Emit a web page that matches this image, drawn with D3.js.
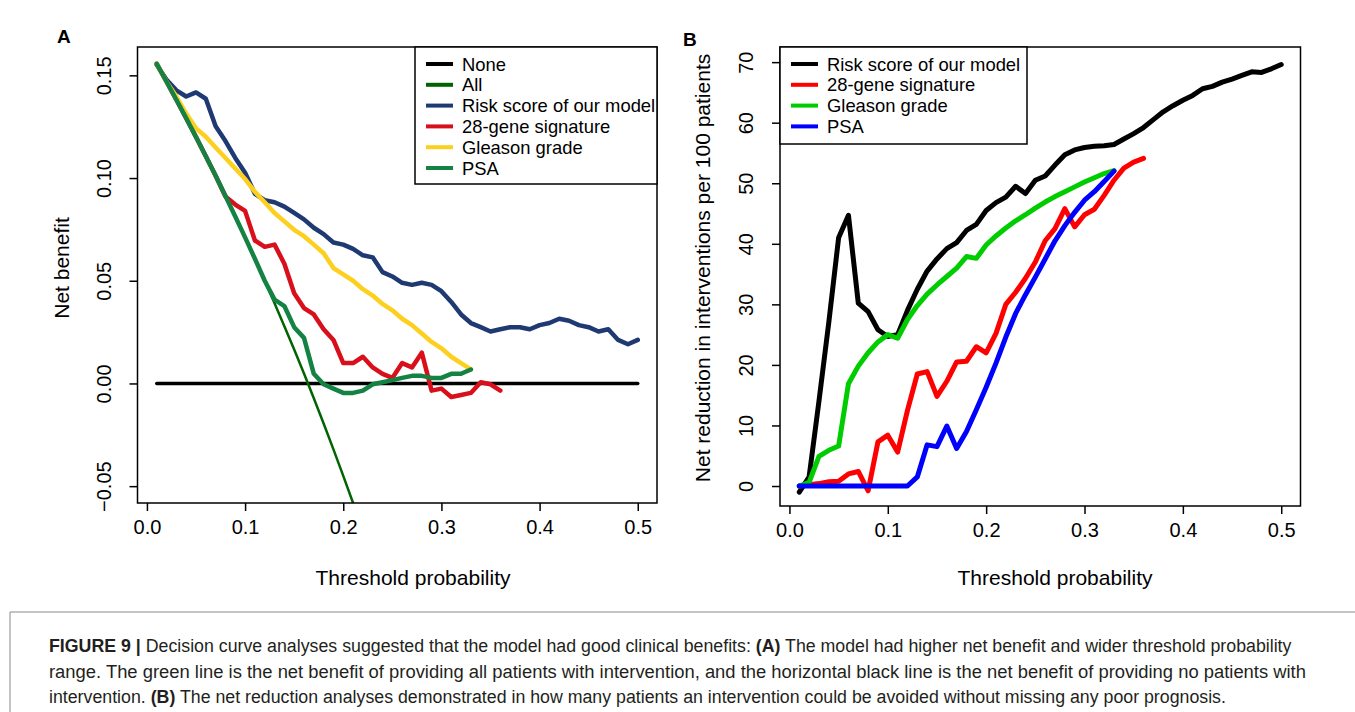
<!DOCTYPE html>
<html>
<head>
<meta charset="utf-8">
<script src="https://cdn.jsdelivr.net/npm/d3@7"></script>
<style>
  body { margin: 0; background: #fff; }
  svg { display: block; }
  text { font-family: "Liberation Sans", Arial, sans-serif; fill: #000; }
</style>
</head>
<body>
<svg id="chart" width="1355" height="712"></svg>
<script>
// threshold probabilities (x values, shared by every curve)
const thresholds = [0.01, 0.02, 0.03, 0.04, 0.05, 0.06, 0.07, 0.08, 0.09, 0.10,
                    0.11, 0.12, 0.13, 0.14, 0.15, 0.16, 0.17, 0.18, 0.19, 0.20,
                    0.21, 0.22, 0.23, 0.24, 0.25, 0.26, 0.27, 0.28, 0.29, 0.30,
                    0.31, 0.32, 0.33, 0.34, 0.35, 0.36, 0.37, 0.38, 0.39, 0.40,
                    0.41, 0.42, 0.43, 0.44, 0.45, 0.46, 0.47, 0.48, 0.49, 0.50];
const xTicks = [0, 0.1, 0.2, 0.3, 0.4, 0.5];

// Panel A : net benefit
const noneX = [0.01, 0.50];
const noneA = [0, 0];
const allA = [0.1556, 0.1469, 0.1381, 0.1292, 0.1200, 0.1106, 0.1011, 0.0913, 0.0813, 0.0711,
              0.0607, 0.0500, 0.0391, 0.0279, 0.0165, 0.0048, -0.0072, -0.0195, -0.0321, -0.0450,
              -0.0582, -0.0718];
const riskA = [0.1551, 0.1479, 0.1427, 0.1397, 0.1417, 0.1386, 0.1252, 0.1180, 0.1098, 0.1026,
               0.0923, 0.0892, 0.0882, 0.0861, 0.0830, 0.0799, 0.0758, 0.0727, 0.0686, 0.0676,
               0.0655, 0.0624, 0.0614, 0.0542, 0.0521, 0.0490, 0.0480, 0.0490, 0.0480, 0.0449,
               0.0397, 0.0336, 0.0294, 0.0274, 0.0253, 0.0264, 0.0274, 0.0274, 0.0264, 0.0284,
               0.0294, 0.0315, 0.0305, 0.0284, 0.0274, 0.0253, 0.0264, 0.0212, 0.0191, 0.0212];
const gene28A = [0.1556, 0.1469, 0.1381, 0.1292, 0.1200, 0.1106, 0.1011, 0.0910, 0.0871, 0.0840,
                 0.0696, 0.0665, 0.0676, 0.0583, 0.0439, 0.0367, 0.0336, 0.0264, 0.0212, 0.0099,
                 0.0099, 0.0130, 0.0078, 0.0047, 0.0027, 0.0099, 0.0078, 0.0150, -0.0035, -0.0025,
                 -0.0066, -0.0056, -0.0046, 0.0006, -0.0004, -0.0035];
const gleasonA = [0.1556, 0.1469, 0.1397, 0.1314, 0.1242, 0.1201, 0.1149, 0.1098, 0.1046, 0.0995,
                  0.0933, 0.0882, 0.0830, 0.0789, 0.0748, 0.0717, 0.0676, 0.0634, 0.0562, 0.0531,
                  0.0500, 0.0459, 0.0428, 0.0387, 0.0356, 0.0315, 0.0284, 0.0243, 0.0202, 0.0171,
                  0.0130, 0.0099, 0.0068];
const psaA = [0.1556, 0.1469, 0.1381, 0.1292, 0.1200, 0.1106, 0.1011, 0.0913, 0.0813, 0.0711,
              0.0607, 0.0500, 0.0408, 0.0377, 0.0274, 0.0222, 0.0047, -0.0004, -0.0025, -0.0046,
              -0.0046, -0.0035, -0.0004, 0.0006, 0.0016, 0.0027, 0.0037, 0.0037, 0.0027, 0.0027,
              0.0047, 0.0047, 0.0068];
const yTicksA = [-0.05, 0, 0.05, 0.10, 0.15];

// Panel B : net reduction in interventions per 100 patients
const riskB = [-1.0, 1.5, 14, 27, 41, 44.7, 30.2, 28.8, 25.8, 24.7,
               25.0, 29.0, 32.5, 35.5, 37.5, 39.2, 40.2, 42.2, 43.2, 45.5,
               46.8, 47.7, 49.5, 48.3, 50.5, 51.2, 53.0, 54.7, 55.5, 55.9,
               56.1, 56.2, 56.4, 57.3, 58.2, 59.2, 60.5, 61.8, 62.8, 63.7,
               64.5, 65.6, 66.0, 66.7, 67.2, 67.8, 68.4, 68.3, 68.9, 69.6];
const gene28B = [0, 0.2, 0.4, 0.7, 0.8, 2.0, 2.4, -0.8, 7.3, 8.4,
                 5.6, 12.5, 18.5, 18.9, 14.8, 17.3, 20.5, 20.6, 23.0, 22.0,
                 25.2, 30.0, 32.0, 34.3, 37.0, 40.5, 42.5, 45.8, 42.8, 44.8,
                 45.7, 48.0, 50.5, 52.5, 53.5, 54.1];
const gleasonB = [0, 0.6, 4.9, 5.9, 6.6, 16.9, 19.8, 22.0, 23.8, 25.0,
                  24.4, 27.5, 29.8, 31.7, 33.2, 34.6, 36.0, 37.9, 37.6, 39.8,
                  41.3, 42.6, 43.8, 44.8, 45.9, 46.9, 47.8, 48.6, 49.4, 50.2,
                  50.9, 51.6, 52.1];
const psaB = [0, 0, 0, 0, 0, 0, 0, 0, 0, 0,
              0, 0, 1.5, 6.8, 6.5, 9.9, 6.2, 9.0, 12.6, 16.3,
              20.3, 24.6, 28.5, 31.6, 34.5, 37.5, 40.5, 43.0, 45.2, 47.2,
              48.6, 50.3, 52.0];
const yTicksB = [0, 10, 20, 30, 40, 50, 60, 70];

const svg = d3.select("#chart");

function drawPanel(p) {
    const x = d3.scaleLinear().domain(p.xDomain).range([p.left, p.right]);
    const y = d3.scaleLinear().domain(p.yDomain).range([p.bottom, p.top]);
    const g = svg.append("g");

    // clip lines to the plotting region (like R does)
    g.append("clipPath").attr("id", p.id + "-clip")
        .append("rect")
        .attr("x", p.left).attr("y", p.top)
        .attr("width", p.right - p.left).attr("height", p.bottom - p.top);

    const line = d3.line().x(d => x(d[0])).y(d => y(d[1]));
    const lines = g.append("g").attr("clip-path", `url(#${p.id}-clip)`);
    p.series.forEach(s => {
        const xs = s.x || thresholds;
        lines.append("path")
            .datum(s.values.map((v, i) => [xs[i], v]))
            .attr("d", line)
            .attr("fill", "none")
            .attr("stroke", s.color)
            .attr("stroke-width", s.width)
            .attr("stroke-linejoin", "round")
            .attr("stroke-linecap", "round");
    });

    // X axis
    const xa = g.append("g")
        .attr("transform", `translate(0,${p.bottom})`)
        .call(d3.axisBottom(x).tickValues(xTicks).tickFormat(d3.format(".1f")).tickSize(8).tickPadding(9));
    xa.select(".domain").remove();
    xa.selectAll("line").attr("stroke", "#000").attr("stroke-width", 1.5);
    xa.selectAll("text").style("font-size", "20px").style("font-family", "Liberation Sans, Arial, sans-serif");

    // Y axis with vertical labels
    const ya = g.append("g")
        .attr("transform", `translate(${p.left},0)`)
        .call(d3.axisLeft(y).tickValues(p.yTicks).tickFormat(p.yFormat).tickSize(8));
    ya.select(".domain").remove();
    ya.selectAll("line").attr("stroke", "#000").attr("stroke-width", 1.5);
    ya.selectAll("text")
        .attr("transform", "rotate(-90)")
        .attr("x", 0).attr("y", -27).attr("dy", 0)
        .attr("text-anchor", "middle")
        .style("font-size", "20px")
        .style("font-family", "Liberation Sans, Arial, sans-serif");

    // box
    g.append("rect")
        .attr("x", p.left).attr("y", p.top)
        .attr("width", p.right - p.left).attr("height", p.bottom - p.top)
        .attr("fill", "none").attr("stroke", "#000").attr("stroke-width", 1.5);

    // axis titles
    g.append("text")
        .attr("x", p.xTitleX).attr("y", 585)
        .attr("text-anchor", "middle")
        .style("font-size", "21px")
        .text("Threshold probability");
    g.append("text")
        .attr("transform", `translate(${p.yTitleX},${p.yTitleY}) rotate(-90)`)
        .attr("text-anchor", "middle")
        .style("font-size", "21px")
        .text(p.yTitle);

    // panel letter
    g.append("text")
        .attr("x", p.letterX).attr("y", p.letterY)
        .style("font-size", "19px").style("font-weight", "bold")
        .text(p.letter);

    // legend
    const lg = g.append("g");
    lg.append("rect")
        .attr("x", p.legend.x).attr("y", p.top)
        .attr("width", p.legend.w).attr("height", p.legend.h)
        .attr("fill", "#fff").attr("stroke", "#000").attr("stroke-width", 1.5);
    p.legend.items.forEach((s, i) => {
        const cy = p.top + 17 + i * 20.8;
        lg.append("line")
            .attr("x1", p.legend.x + 11).attr("x2", p.legend.x + 38)
            .attr("y1", cy).attr("y2", cy)
            .attr("stroke", s.color).attr("stroke-width", 4);
        lg.append("text")
            .attr("x", p.legend.x + 47).attr("y", cy + 6.5)
            .style("font-size", "18.4px")
            .text(s.name);
    });
}

// Panel A
const seriesA = [
    { name: "None", color: "#000000", width: 3.5, x: noneX, values: noneA },
    { name: "All", color: "#006400", width: 2.5, values: allA },
    { name: "Risk score of our model", color: "#1f3a72", width: 4.5, values: riskA },
    { name: "28-gene signature", color: "#d8101c", width: 4.5, values: gene28A },
    { name: "Gleason grade", color: "#fdd020", width: 4.5, values: gleasonA },
    { name: "PSA", color: "#138243", width: 4.5, values: psaA }
];
drawPanel({
    id: "a", letter: "A", letterX: 57, letterY: 43,
    left: 137.5, right: 657, top: 47, bottom: 503,
    xDomain: [-0.0096, 0.5196], yDomain: [-0.0582, 0.1638],
    yTicks: yTicksA, yFormat: d3.format(".2f"),
    yTitle: "Net benefit", yTitleX: 69, yTitleY: 268, xTitleX: 413,
    series: seriesA,
    legend: { x: 415, w: 242, h: 137, items: seriesA }
});

// Panel B
const seriesB = [
    { name: "Risk score of our model", color: "#000000", width: 5, values: riskB },
    { name: "28-gene signature", color: "#ff0000", width: 5, values: gene28B },
    { name: "Gleason grade", color: "#00cd00", width: 5, values: gleasonB },
    { name: "PSA", color: "#0000ff", width: 5, values: psaB }
];
drawPanel({
    id: "b", letter: "B", letterX: 683, letterY: 46,
    left: 780, right: 1300.5, top: 47, bottom: 506,
    xDomain: [-0.0096, 0.5196], yDomain: [-3.3, 72.5],
    yTicks: yTicksB, yFormat: d3.format("d"),
    yTitle: "Net reduction in interventions per 100 patients", yTitleX: 710, yTitleY: 268, xTitleX: 1055,
    series: seriesB,
    legend: { x: 780, w: 247, h: 97, items: seriesB }
});

// caption frame (left and top rule)
svg.append("path")
    .attr("d", "M10,712 V612 H1355")
    .attr("fill", "none")
    .attr("stroke", "#8a8a8a")
    .attr("stroke-width", 1);

// caption: narrow the lines horizontally to the width they have in the figure
const caption = [
    { len: 1243, parts: [["FIGURE 9 | ", true], ["Decision curve analyses suggested that the model had good clinical benefits: ", false], ["(A)", true], [" The model had higher net benefit and wider threshold probability", false]] },
    { len: 1258, parts: [["range. The green line is the net benefit of providing all patients with intervention, and the horizontal black line is the net benefit of providing no patients with", false]] },
    { len: 1177, parts: [["intervention. ", false], ["(B)", true], [" The net reduction analyses demonstrated in how many patients an intervention could be avoided without missing any poor prognosis.", false]] }
];
caption.forEach((c, i) => {
    const t = svg.append("text")
        .attr("x", 0).attr("y", 0)
        .style("font-size", "18px")
        .style("font-family", "'Liberation Sans Narrow', 'Liberation Sans', Arial, sans-serif")
        .style("fill", "#231f20");
    c.parts.forEach(pt => {
        t.append("tspan").style("font-weight", pt[1] ? "bold" : "normal").text(pt[0]);
    });
    const natural = t.node().getComputedTextLength();
    t.attr("transform", `translate(49,${652 + i * 25.5}) scale(${c.len / natural},1)`);
});
</script>
</body>
</html>
